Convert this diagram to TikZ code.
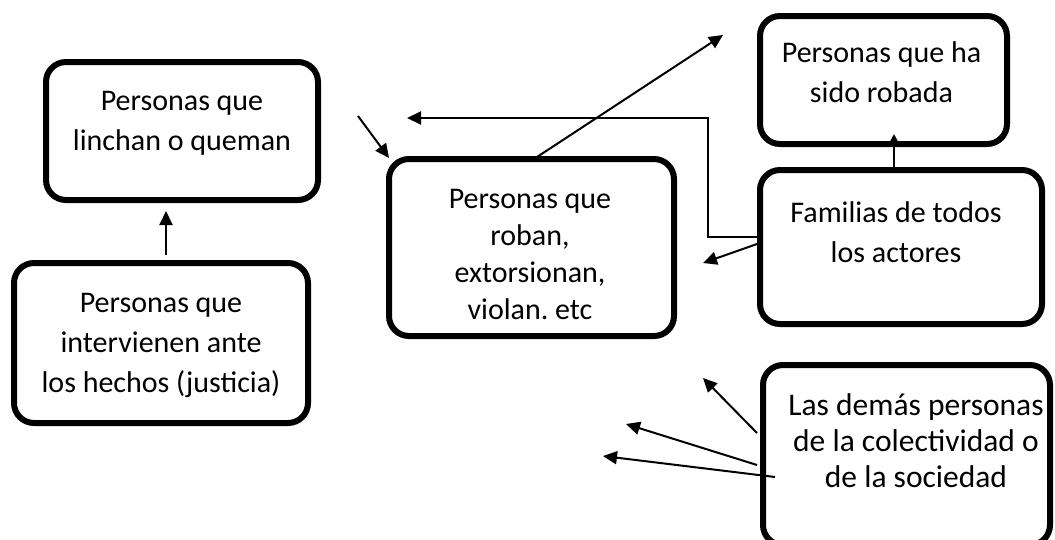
\documentclass[tikz,border=0pt]{standalone}
\usepackage{fontspec}
\setmainfont{Carlito}
\usetikzlibrary{arrows.meta}
\frenchspacing
\begin{document}
\begin{tikzpicture}[x=1pt,y=-1pt,
  box/.style={draw=black,line width=6pt,rounded corners=20pt,rectangle,inner sep=0pt},
  txt/.style={align=center,inner sep=0pt,font=\fontsize{30}{40}\selectfont},
  arr/.style={line width=2pt,-{Triangle[length=14pt,width=13pt]}},
  arrs/.style={line width=2pt,-{Triangle[length=9pt,width=9pt]}}]
\useasboundingbox (0,0) rectangle (1055,539);
\begin{scope}
\clip (0,0) rectangle (1055,539);
% boxes
\node[box,minimum width=272pt,minimum height=138pt] (b1) at (182,131) {};
\node[box,minimum width=294pt,minimum height=160pt] (b2) at (161,343) {};
\node[box,minimum width=285pt,minimum height=177pt] (b3) at (531.5,247.5) {};
\node[box,minimum width=247pt,minimum height=128pt] (b4) at (883.5,80) {};
\node[box,minimum width=282pt,minimum height=154pt] (b5) at (901,247) {};
\node[box,minimum width=287pt,minimum height=180pt] (b6) at (906.5,455) {};
% texts (anchor = baseline of the last line)
\node[txt,anchor=base] (t1) at (182,150) {Personas que\\linchan o queman};
\node[txt,anchor=base] (t2) at (161,392) {Personas que\\intervienen ante\\los hechos (justicia)};
\node[txt,anchor=base,font=\fontsize{30}{37}\selectfont] (t3) at (530,319) {Personas que\\roban,\\extorsionan,\\violan. etc};
\node[txt,anchor=base] (t4) at (881.5,102) {Personas que ha\\sido robada};
\node[txt,anchor=base] (t5) at (896,262) {Familias de todos\\los actores};
\node[txt,anchor=base,font=\fontsize{31.5}{36}\selectfont] (t6) at (916,487) {Las demás personas\\de la colectividad o\\de la sociedad};
\end{scope}
% connector ends
\coordinate (a1s) at (166,255); \coordinate (a1e) at (166,211);
\coordinate (a2s) at (358,116); \coordinate (a2e) at (389,158);
\coordinate (a3s) at (537,157); \coordinate (a3e) at (723,35);
\coordinate (a4s) at (757,237); \coordinate (a4e) at (407,118);
\coordinate (a5s) at (757,244); \coordinate (a5e) at (703,263);
\coordinate (a6s) at (894,167); \coordinate (a6e) at (894,134);
\coordinate (a7s) at (757,433); \coordinate (a7e) at (703,378);
\coordinate (a8s) at (757,465); \coordinate (a8e) at (626,424);
\coordinate (a9s) at (775,477); \coordinate (a9e) at (603,456);
\draw[arr] (a1s) -- (a1e);
\draw[arr] (a2s) -- (a2e);
\draw[arr] (a3s) -- (a3e);
\draw[arr] (a4s) -- (708,237) -- (708,118) -- (a4e);
\draw[arr] (a5s) -- (a5e);
\draw[arrs] (a6s) -- (a6e);
\draw[arr] (a7s) -- (a7e);
\draw[arr] (a8s) -- (a8e);
\draw[arr] (a9s) -- (a9e);
\end{tikzpicture}
\end{document}
